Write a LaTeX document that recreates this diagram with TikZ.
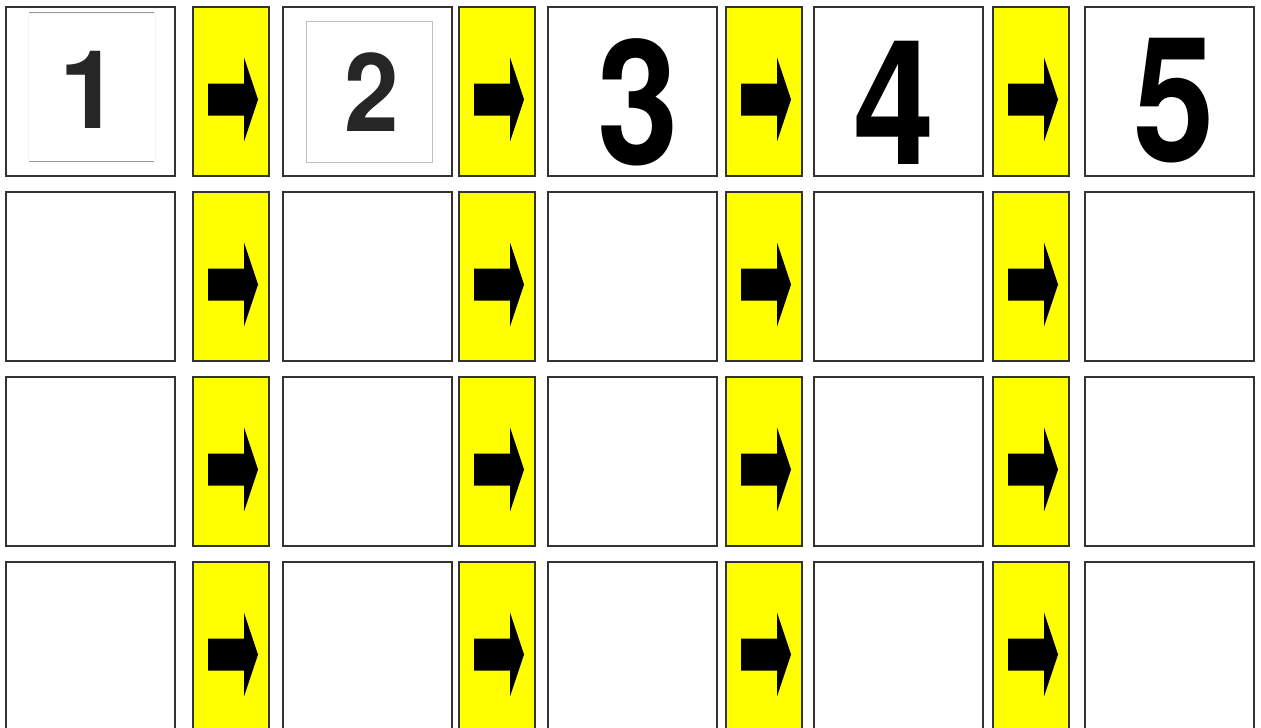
\documentclass[tikz,border=0pt]{standalone}
\usepackage{fontspec}
\setmainfont{TeX Gyre Heros}
\definecolor{signyellow}{RGB}{255,255,0}

\begin{document}
\begin{tikzpicture}[
    x=0.02cm, y=-0.02cm,
    cell/.style={draw=black!80, line width=0.8pt, fill=white, minimum width=3.38cm, minimum height=3.38cm, inner sep=0pt},
    gap/.style={draw=black!80, line width=0.8pt, fill=signyellow, minimum width=1.52cm, minimum height=3.38cm, inner sep=0pt},
    card/.style={draw=black!25, line width=0.5pt, fill=white, inner sep=0pt},
    digit/.style={inner sep=0pt, font=\bfseries\fontsize{99}{99}\selectfont, text=black},
    smalldigit/.style={inner sep=0pt, font=\bfseries\fontsize{62}{62}\selectfont, text=black!85}
]

% Frame
\useasboundingbox (0,0) rectangle (1261,727);
\clip (0,0) rectangle (1261,727);

% Cells and arrows
\foreach \r/\ry in {1/91.5, 2/276.5, 3/461.5, 4/646.5} {
  \foreach \c/\cx in {1/90.5, 2/367.5, 3/632.5, 4/898.5, 5/1169.5}
    \node[cell] (c\r\c) at (\cx,\ry) {};
  \foreach \c/\cx in {1/231, 2/497, 3/764, 4/1031} {
    \node[gap] (g\r\c) at (\cx,\ry) {};
    \fill[black] (g\r\c.center) ++(-23,-8) -- ++(36,0) -- ++(0,-26) -- ++(14,42)
      -- ++(-14,42) -- ++(0,-26) -- ++(-36,0) -- cycle;
  }
}

% Number cards
\node[card, draw=black!4, minimum width=2.54cm, minimum height=2.96cm] (card1) at (91.5,87) {};
\draw[black!40, line width=0.6pt] ([xshift=1] card1.north west) -- ([xshift=-1] card1.north east);
\draw[black!40, line width=0.6pt] ([xshift=1] card1.south west) -- ([xshift=-1] card1.south east);
\node[card, minimum width=2.52cm, minimum height=2.82cm] (card2) at (369,91.5) {};

% Numbers
\node[smalldigit] (n1) at (89.5,89.5) {1};
\node[smalldigit] (n2) at (372,92.5) {\scalebox{0.9}[1]{2}};
\node[digit] (n3) at (638,102.5) {\scalebox{0.84}[1]{3}};
\node[digit] (n4) at (894,102.5) {\scalebox{0.84}[1]{4}};
\node[digit] (n5) at (1174.5,100.5) {\scalebox{0.84}[1]{5}};

\end{tikzpicture}
\end{document}
